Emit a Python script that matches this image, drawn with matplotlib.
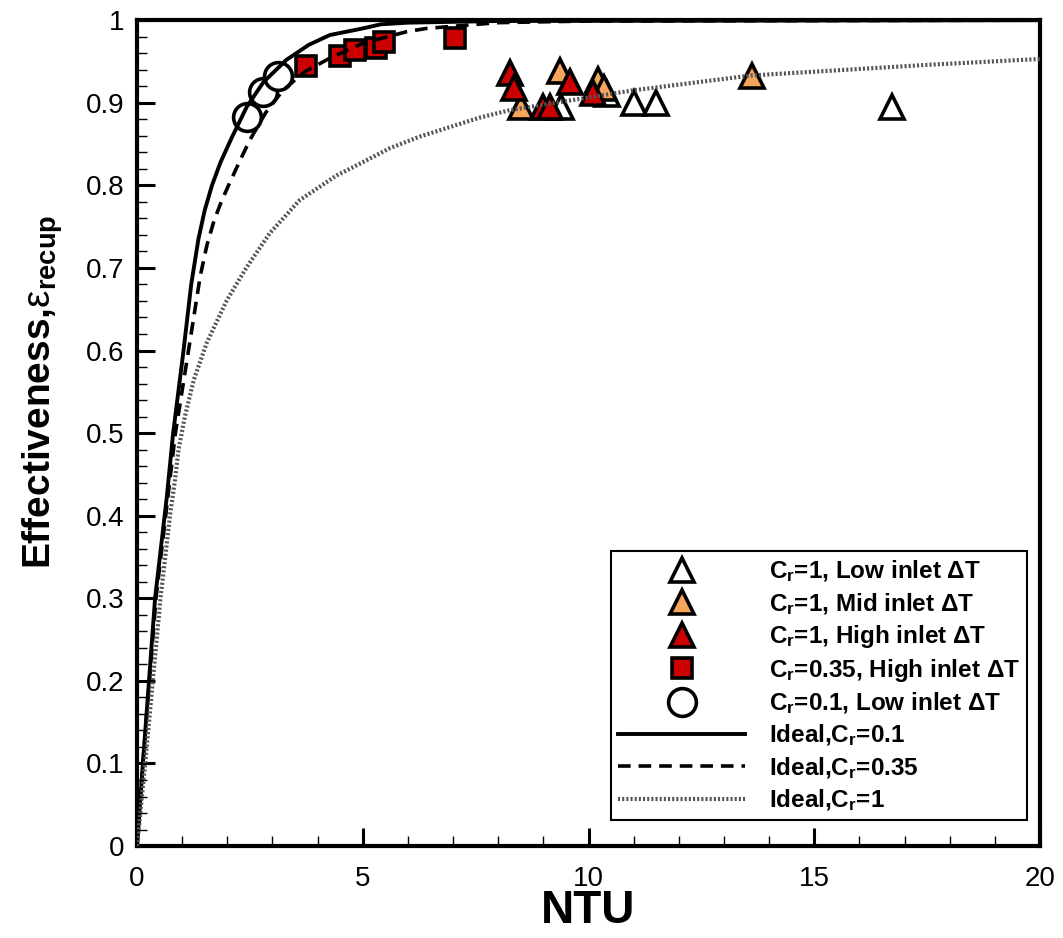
import matplotlib
matplotlib.use("Agg")
import matplotlib.pyplot as plt
from matplotlib.ticker import MultipleLocator

plt.rcParams['font.family'] = ['Liberation Sans', 'DejaVu Sans']
plt.rcParams['mathtext.fontset'] = 'custom'
plt.rcParams['mathtext.rm'] = 'Liberation Sans'
plt.rcParams['mathtext.bf'] = 'Liberation Sans:bold'
plt.rcParams['mathtext.it'] = 'Liberation Sans:italic'

# ---- data ----
low_ntu = [9.4, 10.4, 11.0, 11.5, 16.72]
low_eps = [0.895, 0.91, 0.90, 0.90, 0.895]

mid_ntu = [8.5, 9.36, 10.2, 10.35, 13.62]
mid_eps = [0.895, 0.939, 0.928, 0.918, 0.933]

high_ntu = [8.26, 8.36, 9.0, 9.15, 9.58, 10.1]
high_eps = [0.936, 0.918, 0.895, 0.895, 0.925, 0.912]

sq_ntu = [3.75, 4.5, 4.82, 5.3, 5.48, 7.04]
sq_eps = [0.945, 0.957, 0.964, 0.966, 0.974, 0.979]

circ_ntu = [2.43, 2.79, 3.12]
circ_eps = [0.883, 0.913, 0.933]

ideal01_ntu = [0, 0.13, 0.4, 0.66, 0.80, 1.03, 1.2, 1.36, 1.5, 1.66, 1.85, 2.1, 2.43, 2.8, 3.31, 3.8, 4.27, 5.0, 5.4, 6.0, 8.0, 20.0]
ideal01_eps = [0, 0.1, 0.3, 0.423, 0.5, 0.6, 0.68, 0.735, 0.77, 0.8, 0.828, 0.858, 0.895, 0.925, 0.952, 0.97, 0.982, 0.99, 0.995, 0.997, 0.999, 1.0]

ideal035_ntu = [0, 0.13, 0.42, 0.85, 1.14, 1.40, 1.55, 1.71, 1.88, 2.06, 2.28, 2.5, 2.85, 3.23, 3.7, 4.27, 5.0, 5.97, 6.41, 8.0, 10.0, 20.0]
ideal035_eps = [0, 0.1, 0.3, 0.5, 0.6, 0.69, 0.728, 0.758, 0.782, 0.804, 0.83, 0.855, 0.888, 0.915, 0.937, 0.954, 0.972, 0.986, 0.99, 0.997, 0.999, 1.0]

ideal1_ntu = [0, 0.18, 0.35, 0.52, 0.73, 0.84, 0.92, 1.06, 1.26, 1.55, 1.99, 2.43, 2.94, 3.6, 4.42, 4.93, 5.6, 6.26, 7.59, 8.25, 10.98, 13.6, 17.54, 20.0]
ideal1_eps = [0, 0.1, 0.2, 0.3, 0.4, 0.443, 0.48, 0.52, 0.565, 0.61, 0.661, 0.701, 0.742, 0.782, 0.812, 0.826, 0.845, 0.859, 0.882, 0.891, 0.915, 0.933, 0.946, 0.953]

labels = [r'C$_\mathbf{r}$=1, Low inlet ΔT',
          r'C$_\mathbf{r}$=1, Mid inlet ΔT',
          r'C$_\mathbf{r}$=1, High inlet ΔT',
          r'C$_\mathbf{r}$=0.35, High inlet ΔT',
          r'C$_\mathbf{r}$=0.1, Low inlet ΔT',
          r'Ideal,C$_\mathbf{r}$=0.1',
          r'Ideal,C$_\mathbf{r}$=0.35',
          r'Ideal,C$_\mathbf{r}$=1']

fig = plt.figure(figsize=(10.63, 9.38), dpi=100)
ax = fig.add_axes([0.1289, 0.098, 0.8495, 0.8805])

mew = 2.6
ax.plot(low_ntu, low_eps, linestyle='none', marker='^', ms=17, mfc='white', mec='black', mew=mew, zorder=2, label=labels[0])
ax.plot(mid_ntu, mid_eps, linestyle='none', marker='^', ms=17, mfc='#F5A55C', mec='black', mew=mew, zorder=2, label=labels[1])
ax.plot(high_ntu, high_eps, linestyle='none', marker='^', ms=17, mfc='#CC0000', mec='black', mew=mew, zorder=2, label=labels[2])
ax.plot(sq_ntu, sq_eps, linestyle='none', marker='s', ms=14, mfc='#CC0000', mec='black', mew=mew, zorder=2, label=labels[3])
ax.plot(circ_ntu, circ_eps, linestyle='none', marker='o', ms=20, mfc='white', mec='black', mew=mew, zorder=2, label=labels[4])

ax.plot(ideal01_ntu, ideal01_eps, color='black', lw=2.8, zorder=3, label=labels[5])
ax.plot(ideal035_ntu, ideal035_eps, color='black', lw=2.6, linestyle=(0, (3.5, 2.2)), zorder=3, label=labels[6])
ax.plot(ideal1_ntu, ideal1_eps, color='#555555', lw=3.0, linestyle=(0, (0.5, 0.5)), zorder=3, label=labels[7])

ax.set_xlim(0, 20)
ax.set_ylim(0, 1)
ax.xaxis.set_minor_locator(MultipleLocator(1))
ax.yaxis.set_minor_locator(MultipleLocator(0.02))
ax.set_xticks([0, 5, 10, 15, 20])
ax.set_xticklabels(['0', '5', '10', '15', '20'])
ax.set_yticks([0, 0.1, 0.2, 0.3, 0.4, 0.5, 0.6, 0.7, 0.8, 0.9, 1.0])
ax.set_yticklabels(['0', '0.1', '0.2', '0.3', '0.4', '0.5', '0.6', '0.7', '0.8', '0.9', '1'])

for s in ax.spines.values():
    s.set_linewidth(3)
    s.set_color('black')

ax.tick_params(which='major', direction='in', length=13, width=2.2, top=False, right=False, labelsize=20)
ax.tick_params(which='minor', direction='in', length=7, width=1.0, top=False, right=False)
ax.tick_params(axis='x', which='major', pad=14)
ax.tick_params(axis='y', which='major', pad=9)

ax.set_xlabel('NTU', fontsize=33, fontweight='bold')
ax.xaxis.set_label_coords(0.5, -0.052)
ax.set_ylabel(r'Effectiveness,$\mathrm{ε}_\mathbf{recup}$', fontsize=28, fontweight='bold')
ax.yaxis.set_label_coords(-0.08, 0.55)

leg = ax.legend(loc='lower right', bbox_to_anchor=(0.986, 0.031), borderaxespad=0,
                prop={'weight': 'bold', 'size': 17.5}, numpoints=1,
                handlelength=5.2, handletextpad=1.0, labelspacing=0.27,
                fancybox=False, framealpha=1, edgecolor='black', borderpad=0.3)
leg.get_frame().set_linewidth(1.5)

fig.savefig('out.png', dpi=100)
